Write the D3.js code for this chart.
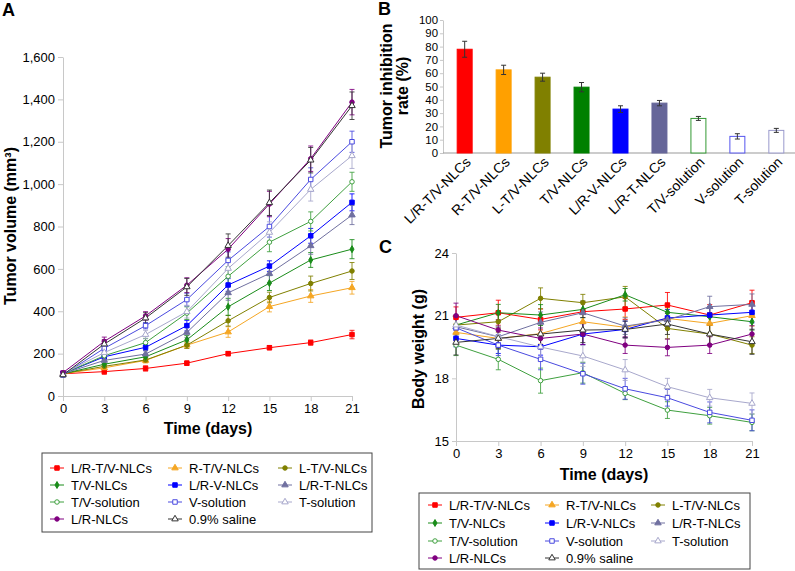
<!DOCTYPE html>
<html><head><meta charset="utf-8">
<script src="https://cdn.jsdelivr.net/npm/d3@7"></script>
<style>body{margin:0;background:#fff} svg{font-family:"Liberation Sans",Arial,sans-serif}</style>
</head><body><svg id="c" width="795" height="571"></svg>
<script>
// ---------- DATA ----------
const days = [0, 3, 6, 9, 12, 15, 18, 21];
const groups = ["L/R-T/V-NLCs","R-T/V-NLCs","L-T/V-NLCs","T/V-NLCs","L/R-V-NLCs","L/R-T-NLCs","T/V-solution","V-solution","T-solution","L/R-NLCs","0.9% saline"];
const groupColors = ["#ff0000","#f5a623","#808000","#1a8c1a","#0000ff","#7070a0","#3fa03f","#4a4ae0","#a8a8cc","#800080","#333333"];
const groupMarkers = ["square","triangle","circle","diamond","square","triangle","circle","square","triangle","circle","triangle"];
const groupFilled = [true,true,true,true,true,true,false,false,false,true,false];

const tumorVolume = [
  [105,115,130,155,200,228,252,290],
  [105,133,168,240,302,422,472,511],
  [105,140,170,240,355,465,531,590],
  [105,150,185,265,421,533,642,693],
  [105,185,230,332,524,613,756,914],
  [105,168,198,300,487,578,709,854],
  [105,190,252,391,565,726,824,1011],
  [100,225,332,455,640,800,1022,1200],
  [105,205,290,398,602,772,975,1134],
  [110,258,378,523,693,906,1120,1387],
  [100,245,368,515,710,912,1113,1370]
];
const tumorVolumeErr = [
  [10,12,12,10,10,10,12,20],
  [10,10,12,15,25,25,30,30],
  [10,10,12,15,25,25,35,40],
  [10,12,12,20,40,35,35,45],
  [10,15,15,25,30,25,35,40],
  [10,15,15,25,35,45,40,45],
  [10,15,20,30,45,45,45,45],
  [10,15,15,30,40,50,55,50],
  [10,15,20,30,45,50,55,60],
  [10,20,20,35,50,60,60,60],
  [10,20,25,40,55,60,60,65]
];
const bodyWeight = [
  [20.92,21.14,20.82,21.19,21.32,21.51,21.03,21.62],
  [20.20,19.91,20.14,20.71,20.44,20.87,20.63,21.00],
  [20.55,20.71,21.83,21.62,21.90,20.39,20.12,19.59],
  [20.55,21.14,21.03,21.30,22.00,21.16,20.95,20.71],
  [19.91,19.59,19.51,20.12,20.34,20.89,21.03,21.16],
  [20.47,19.99,20.68,21.14,20.50,20.80,21.43,21.54],
  [19.59,18.91,17.89,18.27,17.28,16.48,16.21,15.89],
  [20.42,19.59,18.91,18.22,17.50,17.07,16.37,15.99],
  [20.55,20.00,19.50,19.07,18.40,17.60,17.07,16.80],
  [21.00,20.31,19.91,20.12,19.59,19.48,19.59,20.12],
  [19.72,19.91,20.12,20.31,20.34,20.60,20.12,19.75]
];
const bodyWeightErr = [
  [0.5,0.6,0.5,0.5,0.5,0.6,0.5,0.6],
  [0.4,0.5,0.5,0.5,0.5,0.5,0.5,0.5],
  [0.4,0.5,0.5,0.4,0.5,0.5,0.5,0.4],
  [0.4,0.4,0.5,0.4,0.3,0.4,0.4,0.4],
  [0.4,0.4,0.4,0.5,0.4,0.4,0.4,0.5],
  [0.5,0.5,0.5,0.5,0.4,0.4,0.5,0.5],
  [0.5,0.5,0.6,0.5,0.3,0.4,0.4,0.4],
  [0.5,0.5,0.5,0.5,0.5,0.4,0.5,0.5],
  [0.5,0.5,0.5,0.5,0.5,0.4,0.4,0.5],
  [0.6,0.5,0.5,0.5,0.4,0.4,0.4,0.4],
  [0.6,0.5,0.5,0.6,0.4,0.5,0.5,0.6]
];
const inhibitionGroups = ["L/R-T/V-NLCs","R-T/V-NLCs","L-T/V-NLCs","T/V-NLCs","L/R-V-NLCs","L/R-T-NLCs","T/V-solution","V-solution","T-solution"];
const inhibitionRate = [78, 62.5, 57, 49.5, 33, 37.5, 26, 12.5, 17];
const inhibitionErr = [6, 3.5, 3, 3.5, 2.5, 2, 1.5, 2, 1.5];
const inhibitionFill = ["#ff0000","#ffa000","#808000","#008000","#0000ff","#666699","#ffffff","#ffffff","#ffffff"];
const inhibitionStroke = ["#ff0000","#ffa000","#808000","#008000","#0000ff","#666699","#339933","#5555ee","#9999cc"];
const volumeTicks = [0,200,400,600,800,1000,1200,1400,1600];
const rateTicks = [0,10,20,30,40,50,60,70,80,90,100];
const weightTicks = [15,18,21,24];

// ---------- DRAW ----------
const svg = d3.select("#c");
const symType = {square:d3.symbolSquare, triangle:d3.symbolTriangle, circle:d3.symbolCircle, diamond:d3.symbolDiamond};
const symSize = {square:20, triangle:18, circle:16, diamond:14};
function marker(g, i, x, y) {
  const m = groupMarkers[i];
  g.append("path").attr("d", d3.symbol().type(symType[m]).size(symSize[m])())
    .attr("transform", `translate(${x},${y})`)
    .attr("fill", groupFilled[i] ? groupColors[i] : "#fff")
    .attr("stroke", groupColors[i]).attr("stroke-width", 1);
}
function styleAxis(g, fs) {
  g.selectAll(".domain").attr("stroke", "#c8c8c8");
  g.selectAll(".tick line").attr("stroke", "#c8c8c8");
  g.selectAll(".tick text").attr("font-size", fs).attr("fill", "#000")
   .attr("font-family", '"Liberation Sans",Arial,sans-serif');
}
function lineChart(xs, ys, data, err, capW) {
  const g = svg.append("g");
  data.forEach((vals, i) => {
    const col = groupColors[i];
    vals.forEach((v, j) => {
      const e = err[i][j], x = xs(days[j]);
      g.append("line").attr("x1", x).attr("x2", x).attr("y1", ys(v - e)).attr("y2", ys(v + e))
        .attr("stroke", col).attr("stroke-width", 1).attr("opacity", 0.85);
      [v - e, v + e].forEach(c => g.append("line").attr("x1", x - capW).attr("x2", x + capW)
        .attr("y1", ys(c)).attr("y2", ys(c)).attr("stroke", col).attr("stroke-width", 1).attr("opacity", 0.85));
    });
  });
  data.forEach((vals, i) => {
    const line = d3.line().x((d, j) => xs(days[j])).y(d => ys(d));
    g.append("path").attr("d", line(vals)).attr("fill", "none")
      .attr("stroke", groupColors[i]).attr("stroke-width", 1);
  });
  data.forEach((vals, i) => vals.forEach((v, j) => marker(g, i, xs(days[j]), ys(v))));
}
function legend(x0, y0, w, h, rowY, colX, fs) {
  const g = svg.append("g");
  g.append("rect").attr("x", x0).attr("y", y0).attr("width", w).attr("height", h)
    .attr("fill", "#fff").attr("stroke", "#444").attr("stroke-width", 1);
  groups.forEach((name, i) => {
    const r = Math.floor(i / 3), c = i % 3;
    const lx = colX[c], ly = rowY[r];
    g.append("line").attr("x1", lx).attr("x2", lx + 14).attr("y1", ly).attr("y2", ly)
      .attr("stroke", groupColors[i]).attr("stroke-width", 1);
    marker(g, i, lx + 7, ly);
    g.append("text").attr("x", lx + 21).attr("y", ly + 4.5).attr("font-size", fs).text(name);
  });
}

// ===== Panel A =====
const xA = d3.scaleLinear().domain([0, 21]).range([63, 352]);
const yA = d3.scaleLinear().domain([0, 1600]).range([396, 57]);
svg.append("g").attr("transform", "translate(63,0)")
  .call(d3.axisLeft(yA).tickValues(volumeTicks).tickFormat(d3.format(",")).tickSize(5).tickSizeOuter(0))
  .call(g => styleAxis(g, 13));
svg.append("g").attr("transform", "translate(0,396)")
  .call(d3.axisBottom(xA).tickValues(days).tickSize(5).tickSizeOuter(0))
  .call(g => styleAxis(g, 13));
lineChart(xA, yA, tumorVolume, tumorVolumeErr, 2.5);
svg.append("text").attr("x", 2).attr("y", 16).attr("font-size", 18).attr("font-weight", "bold").text("A");
svg.append("text").attr("transform", "translate(16,226) rotate(-90)").attr("text-anchor", "middle")
  .attr("font-size", 16).attr("font-weight", "bold").text("Tumor volume (mm³)");
svg.append("text").attr("x", 208).attr("y", 434).attr("text-anchor", "middle")
  .attr("font-size", 16).attr("font-weight", "bold").text("Time (days)");
legend(42, 453, 330, 79, [468, 485, 502, 519], [50, 168, 278], 13);

// ===== Panel B =====
const xB = d3.scaleBand().domain(inhibitionGroups).range([445, 796]).paddingInner(0.59).paddingOuter(0.3);
const yB = d3.scaleLinear().domain([0, 100]).range([153, 20]);
svg.append("g").attr("transform", "translate(443,0)")
  .call(d3.axisLeft(yB).tickValues(rateTicks).tickSize(3).tickPadding(2).tickSizeOuter(0))
  .call(g => styleAxis(g, 11.4));
svg.append("line").attr("x1", 443).attr("x2", 795).attr("y1", 153).attr("y2", 153).attr("stroke", "#999");
const gB = svg.append("g");
inhibitionGroups.forEach((name, i) => {
  const x = xB(name), w = xB.bandwidth(), cx = x + w / 2;
  gB.append("rect").attr("x", x + 0.5).attr("y", yB(inhibitionRate[i])).attr("width", w - 1)
    .attr("height", yB(0) - yB(inhibitionRate[i]))
    .attr("fill", inhibitionFill[i]).attr("stroke", inhibitionStroke[i]).attr("stroke-width", 1);
  const lo = yB(inhibitionRate[i] - inhibitionErr[i]), hi = yB(inhibitionRate[i] + inhibitionErr[i]);
  gB.append("line").attr("x1", cx).attr("x2", cx).attr("y1", lo).attr("y2", hi).attr("stroke", "#333");
  [lo, hi].forEach(y => gB.append("line").attr("x1", cx - 2.5).attr("x2", cx + 2.5).attr("y1", y).attr("y2", y).attr("stroke", "#333"));
  gB.append("text").attr("transform", `translate(${cx + 7},${163}) rotate(-45)`).attr("text-anchor", "end")
    .attr("font-size", 14).text(name);
});
svg.append("text").attr("x", 378).attr("y", 15).attr("font-size", 18).attr("font-weight", "bold").text("B");
svg.append("text").attr("transform", "translate(392,86) rotate(-90)").attr("text-anchor", "middle")
  .attr("font-size", 16).attr("font-weight", "bold").text("Tumor inhibition");
svg.append("text").attr("transform", "translate(408,86) rotate(-90)").attr("text-anchor", "middle")
  .attr("font-size", 16).attr("font-weight", "bold").text("rate (%)");

// ===== Panel C =====
const xC = d3.scaleLinear().domain([0, 21]).range([456, 752]);
const yC = d3.scaleLinear().domain([15, 24]).range([441, 253]);
svg.append("g").attr("transform", "translate(456,0)")
  .call(d3.axisLeft(yC).tickValues(weightTicks).tickSize(4).tickSizeOuter(0))
  .call(g => styleAxis(g, 13));
svg.append("g").attr("transform", "translate(0,441)")
  .call(d3.axisBottom(xC).tickValues(days).tickSize(5).tickSizeOuter(0))
  .call(g => styleAxis(g, 13));
lineChart(xC, yC, bodyWeight, bodyWeightErr, 2.5);
svg.append("text").attr("x", 379).attr("y", 253).attr("font-size", 18).attr("font-weight", "bold").text("C");
svg.append("text").attr("transform", "translate(424,349) rotate(-90)").attr("text-anchor", "middle")
  .attr("font-size", 16).attr("font-weight", "bold").text("Body weight (g)");
svg.append("text").attr("x", 604).attr("y", 480).attr("text-anchor", "middle")
  .attr("font-size", 16).attr("font-weight", "bold").text("Time (days)");
legend(419, 493, 331, 76, [505, 523, 541, 558], [428, 545, 651], 13);
</script></body></html>
